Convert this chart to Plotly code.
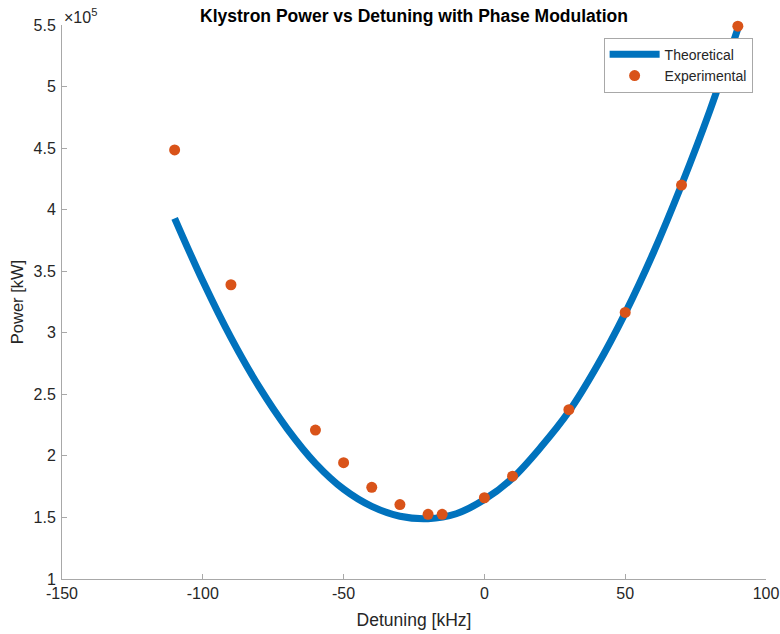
import plotly.graph_objects as go

# Theoretical curve, detuning in kHz, power in kW
theory_detuning = [-110, -100, -90, -80, -70, -60, -50, -40, -30, -20, -10,
                   0, 10, 20, 30, 40, 50, 60, 70, 80, 90]
theory_power = [393000, 342000, 296000, 256000, 222000, 194000, 173000, 159000,
                151000, 149000, 153000, 164500, 182000, 207000, 236000, 273000,
                316000, 365000, 420000, 480000, 547000]

# Experimental points
exp_detuning = [-110, -90, -60, -50, -40, -30, -20, -15, 0, 10, 30, 50, 70, 90]
exp_power = [448500, 339000, 221000, 194500, 174500, 160500, 152500, 152500,
             166000, 183500, 237500, 316500, 420000, 549000]

y_tickvals = [100000, 150000, 200000, 250000, 300000, 350000, 400000, 450000, 500000, 550000]
y_ticktext = ["1", "1.5", "2", "2.5", "3", "3.5", "4", "4.5", "5", "5.5"]
x_tickvals = [-150, -100, -50, 0, 50, 100]
x_ticktext = ["-150", "-100", "-50", "0", "50", "100"]

BLUE = "#0072BD"
ORANGE = "#D95319"
AX = "#a8a8a8"
TXT = "#262626"
FONT = "Liberation Sans, Arial, Helvetica, sans-serif"

fig = go.Figure()
fig.add_trace(go.Scatter(
    x=theory_detuning, y=theory_power, mode="lines", name="Theoretical",
    line=dict(color=BLUE, width=7, shape="spline", smoothing=1.0),
))
fig.add_trace(go.Scatter(
    x=exp_detuning, y=exp_power, mode="markers", name="Experimental",
    marker=dict(color=ORANGE, size=11),
    cliponaxis=False,
))

fig.update_layout(
    width=780, height=634,
    margin=dict(l=62, r=14, t=25, b=55, autoexpand=False),
    paper_bgcolor="white", plot_bgcolor="white",
    font=dict(family=FONT, size=16, color=TXT),
    title=dict(text="<b>Klystron Power vs Detuning with Phase Modulation</b>",
               x=0.5, xref="paper", xanchor="center",
               y=0.9854, yref="container", yanchor="top",
               font=dict(size=17.5, color="black")),
    showlegend=True,
    legend=dict(x=0.981, y=0.977, xanchor="right", yanchor="top",
                bgcolor="white", bordercolor=AX, borderwidth=1,
                font=dict(size=14, color=TXT), tracegroupgap=0,
                itemwidth=50),
    xaxis=dict(range=[-150, 100], tickvals=x_tickvals, ticktext=x_ticktext,
               ticks="inside", automargin=False,
               ticklen=5, tickcolor=AX, showline=True, linecolor=AX, linewidth=1,
               showgrid=False, zeroline=False, mirror=False,
               tickfont=dict(size=16, color=TXT),
               title=dict(text="Detuning [kHz]", standoff=12,
                          font=dict(size=17.5, color=TXT))),
    yaxis=dict(range=[100000, 550000], tickvals=y_tickvals, ticktext=y_ticktext,
               ticks="inside", automargin=False, ticklen=5, tickcolor=AX, showline=True,
               linecolor=AX, linewidth=1, showgrid=False, zeroline=False,
               mirror=False, tickfont=dict(size=16, color=TXT),
               ticklabelstandoff=2,
               title=dict(text="Power [kW]", standoff=5,
                          font=dict(size=16.5, color=TXT))),
    annotations=[dict(text="×10<sup>5</sup>", xref="paper", yref="paper",
                      x=0.0, y=1.0, xanchor="left", yanchor="bottom", yshift=-3,
                      showarrow=False, font=dict(size=16, color=TXT))],
)

# Remove the browser's default 8 px body margin so the figure fills the window.
fig.write_html("out.html",
               config={"displayModeBar": False},
               post_script="document.body.style.margin='0';")
